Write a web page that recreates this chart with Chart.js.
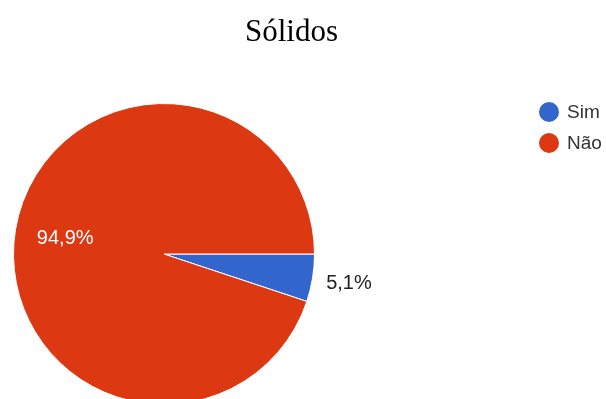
<!DOCTYPE html>
<html>
<head>
<meta charset="utf-8">
<script src="https://cdn.jsdelivr.net/npm/chart.js@4"></script>
<style>
  html, body { margin: 0; padding: 0; background: #fff; overflow: hidden; width: 606px; height: 399px; }
  #wrap { position: relative; width: 606px; height: 399px; overflow: hidden; }
  #title { position: absolute; left: 0; top: 15px; width: 583px; text-align: center;
           font-family: "Liberation Serif", "Times New Roman", serif; font-size: 31px; line-height: 31px; color: #000; }
  #chart { position: absolute; left: 0; top: 0; }
  #legend { position: absolute; left: 539px; top: 96px; font-family: "Liberation Sans", Arial, sans-serif;
            font-size: 19px; color: #333; }
  .item { display: flex; align-items: center; height: 31px; }
  .dot { width: 20px; height: 20px; border-radius: 50%; margin-right: 8px; }
</style>
</head>
<body>
<div id="wrap">
  <canvas id="chart" width="606" height="410" style="width:606px;height:410px"></canvas>
  <div id="title"></div>
  <div id="legend"></div>
</div>
<script>
const chartTitle = 'Sólidos';
const categories = ['Sim', 'Não'];
const values = [5.1, 94.9];
const colors = ['#3366cc', '#dc3912'];

document.getElementById('title').textContent = chartTitle;
const legendEl = document.getElementById('legend');
categories.forEach((c, i) => {
  const it = document.createElement('div'); it.className = 'item';
  const d = document.createElement('span'); d.className = 'dot'; d.style.background = colors[i];
  const t = document.createElement('span'); t.textContent = c;
  it.appendChild(d); it.appendChild(t); legendEl.appendChild(it);
});

const labelPlugin = {
  id: 'sliceLabels',
  afterDatasetsDraw(chart) {
    const ctx = chart.ctx;
    const meta = chart.getDatasetMeta(0);
    const total = values.reduce((a, b) => a + b, 0);
    meta.data.forEach((arc, i) => {
      const p = arc.getProps(['x', 'y', 'startAngle', 'endAngle', 'outerRadius'], true);
      const mid = (p.startAngle + p.endAngle) / 2;
      const frac = values[i] / total;
      const inside = frac > 0.1;
      const r = inside ? p.outerRadius * 0.665 : p.outerRadius * 1.245;
      const x = p.x + Math.cos(mid) * r;
      const y = p.y + Math.sin(mid) * r;
      ctx.save();
      ctx.font = '20px "Liberation Sans", Arial, sans-serif';
      ctx.fillStyle = inside ? '#ffffff' : '#222222';
      ctx.textAlign = 'center';
      ctx.textBaseline = 'middle';
      ctx.fillText((frac * 100).toFixed(1).replace('.', ',') + '%', x, y);
      ctx.restore();
    });
  }
};

new Chart(document.getElementById('chart'), {
  type: 'pie',
  data: {
    labels: categories,
    datasets: [{
      data: values,
      backgroundColor: colors,
      borderColor: '#ffffff',
      borderWidth: 1,
      hoverOffset: 0,
      offset: 0
    }]
  },
  options: {
    responsive: false,
    animation: false,
    rotation: 90,
    layout: { padding: { left: 13, top: 103, right: 291, bottom: 5 } },
    plugins: {
      legend: { display: false },
      title: { display: false },
      tooltip: { enabled: false }
    }
  },
  plugins: [labelPlugin]
});
</script>
</body>
</html>
